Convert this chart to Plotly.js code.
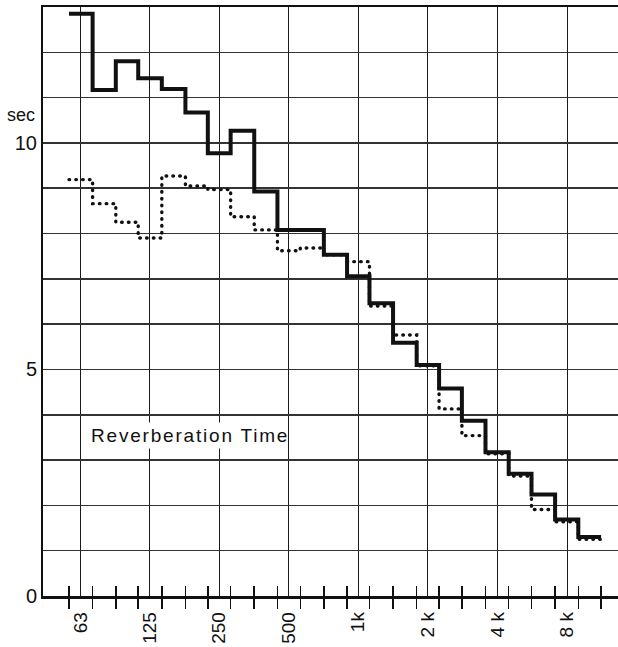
<!DOCTYPE html>
<html>
<head>
<meta charset="utf-8">
<script src="https://cdn.plot.ly/plotly-3.0.1.min.js"></script>
<style>
  html, body { margin: 0; padding: 0; background: #fff; }
  #chart { width: 618px; height: 647px; }
  /* the caption inside the grid is set with a little extra tracking */
  .annotation[data-index="1"] .annotation-text { letter-spacing: 1.8px; }
  /* round caps turn the short dashes of the second curve into dots */
  .scatterlayer .trace:first-child path.js-line { stroke-linecap: round; }
  /* keep every grid line on whole pixels so they all look alike */
  .gridlayer path { shape-rendering: crispEdges; }
</style>
</head>
<body>
<div id="chart"></div>
<script>
// One-third-octave band centre frequencies (Hz, nominal)
const bandCentersHz = [63, 80, 100, 125, 160, 200, 250, 315, 400, 500, 630, 800,
                       1000, 1250, 1600, 2000, 2500, 3150, 4000, 5000, 6300, 8000, 10000];

// Reverberation time per band (seconds)
const rtSolid  = [12.85, 11.17, 11.80, 11.43, 11.19, 10.67, 9.77, 10.27, 8.93, 8.08, 8.08, 7.53,
                  7.06, 6.46, 5.59, 5.10, 4.58, 3.87, 3.17, 2.70, 2.24, 1.69, 1.30];
const rtDotted = [9.19, 8.66, 8.25, 7.90, 9.27, 9.05, 8.97, 8.37, 8.08, 7.62, 7.68, 7.53,
                  7.38, 6.40, 5.76, 5.08, 4.13, 3.54, 3.14, 2.65, 1.91, 1.64, 1.25];

// Octave labels on the frequency axis
const octaveTicksHz = [63, 125, 250, 500, 1000, 2000, 4000, 8000];
const octaveLabels  = ['63', '125', '250', '500', '1k', '2 k', '4 k', '8 k'];

// Seconds axis: a grid line every second, numbers at 0, 5 and 10
const secTicks  = [0, 1, 2, 3, 4, 5, 6, 7, 8, 9, 10, 11, 12, 13];
const secLabels = ['0', '', '', '', '', '5', '', '', '', '', '10', '', '', ''];

// Band edges: geometric means between neighbouring centres, a sixth of an octave at the ends
const sixth = Math.pow(2, 1 / 6);
const bandEdges = [bandCentersHz[0] / sixth];
for (let i = 0; i < bandCentersHz.length - 1; i++) {
  bandEdges.push(Math.sqrt(bandCentersHz[i] * bandCentersHz[i + 1]));
}
bandEdges.push(bandCentersHz[bandCentersHz.length - 1] * sixth);

// Step outline: each band value held flat from its lower to its upper edge
function steps(values) {
  return { x: bandEdges.slice(), y: values.concat([values[values.length - 1]]) };
}

const xRange = [1.6367, 4.1232];
const ink = '#111';

const dotted = steps(rtDotted);
const solid = steps(rtSolid);

const traces = [
  {
    type: 'scatter', mode: 'lines', x: dotted.x, y: dotted.y,
    line: { shape: 'hv', color: ink, width: 3.4, dash: '0.6px,6.2px' },
    hoverinfo: 'skip'
  },
  {
    type: 'scatter', mode: 'lines', x: solid.x, y: solid.y,
    line: { shape: 'hv', color: ink, width: 4 },
    hoverinfo: 'skip'
  },
  // carries the second frequency axis that holds the upward band ticks
  { type: 'scatter', mode: 'lines', x: [], y: [], xaxis: 'x2', yaxis: 'y', hoverinfo: 'skip' }
];

const layout = {
  width: 618, height: 647,
  margin: { l: 43, r: 0, t: 7, b: 51 },
  paper_bgcolor: '#fff', plot_bgcolor: '#fff',
  showlegend: false,
  font: { family: '"Liberation Sans", Arial, Helvetica, sans-serif', size: 19, color: ink },
  xaxis: {
    type: 'log', range: xRange, fixedrange: true,
    tickmode: 'array', tickvals: octaveTicksHz, ticktext: octaveLabels,
    tickangle: -90, ticks: '', ticklabelstandoff: 6,
    tickfont: { size: 19, color: ink },
    showgrid: true, gridcolor: '#1a1a1a', gridwidth: 1,
    showline: true, linecolor: ink, linewidth: 2.5, mirror: true,
    zeroline: false,
    minor: {
      tickmode: 'array', tickvals: bandEdges,
      ticks: 'outside', ticklen: 10, tickwidth: 1.5, tickcolor: ink, showgrid: false
    }
  },
  xaxis2: {
    type: 'log', range: xRange, fixedrange: true,
    overlaying: 'x', anchor: 'y', side: 'bottom',
    tickmode: 'array', tickvals: bandEdges,
    ticks: 'inside', ticklen: 10, tickwidth: 1.5, tickcolor: ink,
    showticklabels: false, showgrid: false, showline: false, zeroline: false
  },
  yaxis: {
    range: [0, 13], fixedrange: true,
    tickmode: 'array', tickvals: secTicks, ticktext: secLabels,
    ticks: '', ticklabelstandoff: 0,
    tickfont: { size: 20, color: ink },
    showgrid: true, gridcolor: '#333', gridwidth: 1.6,
    showline: true, linecolor: ink, linewidth: 2,
    zeroline: false
  },
  annotations: [
    {
      text: 'sec', xref: 'paper', yref: 'y', x: -0.01, y: 10.62,
      xanchor: 'right', yanchor: 'middle', showarrow: false,
      font: { size: 18, color: ink }
    },
    {
      text: 'Reverberation Time', xref: 'paper', yref: 'y', x: 0.078, y: 3.55,
      xanchor: 'left', yanchor: 'middle', align: 'left', showarrow: false,
      bgcolor: '#fff', borderpad: 2,
      font: { size: 19, color: ink }
    }
  ]
};

Plotly.newPlot('chart', traces, layout, { staticPlot: true, displayModeBar: false });
</script>
</body>
</html>
